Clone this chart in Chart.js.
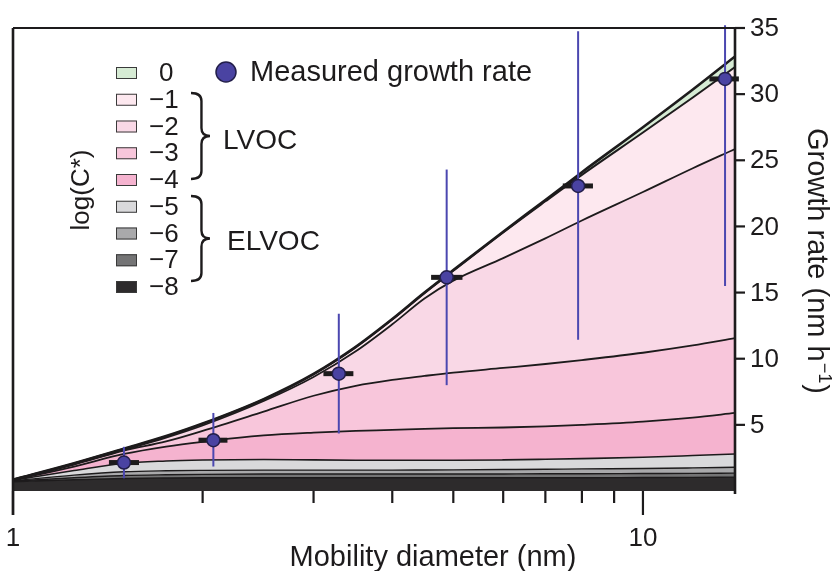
<!DOCTYPE html>
<html>
<head>
<meta charset="utf-8">
<script src="https://cdn.jsdelivr.net/npm/chart.js@4/dist/chart.umd.min.js"></script>
<style>
  html, body { margin: 0; padding: 0; background: #fff; }
  #wrap { position: relative; width: 833px; height: 571px; }
</style>
</head>
<body>
<div id="wrap"><canvas id="chart" width="833" height="571"></canvas></div>
<script>
// Mobility diameter grid (nm) for the modelled contributions
const diameters = [1, 1.25, 1.5, 1.75, 2, 2.5, 3, 3.5, 4, 4.5, 5, 6, 7, 8, 10, 12, 14];

// Cumulative modelled growth rate (nm/h) summed over bins up to each log(C*)
const cumMinus8 = [0.70, 0.85, 0.94, 0.98, 1.00, 1.00, 1.00, 1.00, 1.00, 1.00, 1.00, 1.00, 1.00, 1.00, 1.02, 1.03, 1.05];
const cumMinus7 = [0.74, 1.00, 1.17, 1.23, 1.26, 1.28, 1.28, 1.28, 1.28, 1.28, 1.28, 1.29, 1.30, 1.30, 1.32, 1.33, 1.35];
const cumMinus6 = [0.77, 1.20, 1.45, 1.53, 1.56, 1.58, 1.58, 1.58, 1.58, 1.59, 1.60, 1.62, 1.64, 1.67, 1.70, 1.75, 1.80];
const cumMinus5 = [0.80, 1.55, 2.10, 2.27, 2.34, 2.38, 2.35, 2.33, 2.32, 2.32, 2.32, 2.35, 2.40, 2.45, 2.55, 2.68, 2.80];
const cumMinus4 = [0.82, 1.85, 2.80, 3.36, 3.72, 4.20, 4.42, 4.55, 4.62, 4.70, 4.75, 4.80, 4.88, 5.00, 5.25, 5.55, 5.90];
const cumMinus3 = [0.83, 2.00, 3.05, 3.75, 4.55, 6.00, 7.20, 7.95, 8.40, 8.70, 8.95, 9.30, 9.60, 9.90, 10.45, 11.00, 11.55];
const cumMinus2 = [0.84, 2.04, 3.10, 4.03, 4.95, 6.80, 8.62, 10.56, 12.60, 14.55, 15.90, 17.60, 19.10, 20.45, 22.60, 24.40, 25.85];
const cumMinus1 = [0.85, 2.09, 3.18, 4.13, 5.07, 6.92, 8.82, 10.86, 12.96, 14.96, 16.65, 19.55, 21.90, 23.90, 27.10, 29.75, 32.05];
const cumZero   = [0.86, 2.10, 3.20, 4.15, 5.10, 6.95, 8.85, 10.90, 13.00, 15.00, 16.70, 19.60, 22.00, 24.10, 27.50, 30.35, 32.85];

// Measured growth rates with diameter and rate uncertainty
const measDiameter = [1.5, 2.08, 3.29, 4.88, 7.89, 13.5];
const measRate     = [2.15, 3.84, 8.87, 16.15, 23.06, 31.15];
const measRateLow  = [0.96, 1.85, 4.35, 8.0, 11.43, 15.5];
const measRateHigh = [3.34, 5.9, 13.4, 24.3, 34.75, 35.2];
const measDiamLow  = [1.42, 1.97, 3.11, 4.61, 7.46, 12.75];
const measDiamHigh = [1.585, 2.19, 3.47, 5.17, 8.33, 14.2];

// Legend / axis text
const binLabels = ['0', '\u22121', '\u22122', '\u22123', '\u22124', '\u22125', '\u22126', '\u22127', '\u22128'];
const yTicks = [5, 10, 15, 20, 25, 30, 35];
const xMajorTicks = [1, 10];
const xMinorTicks = [2, 3, 4, 5, 6, 7, 8, 9];

const INK = '#1d1b1c';
const FONT = '"Liberation Sans", Arial, Helvetica, sans-serif';

// bottom-to-top stacking order, colours matching binLabels reversed
const layers = [
  { data: cumMinus8, color: '#2d2b2c', width: 1.4 },
  { data: cumMinus7, color: '#747475', width: 1.4 },
  { data: cumMinus6, color: '#a9a9ab', width: 1.4 },
  { data: cumMinus5, color: '#d9d9db', width: 1.6 },
  { data: cumMinus4, color: '#f5b3cf', width: 1.8 },
  { data: cumMinus3, color: '#f8c6db', width: 1.8 },
  { data: cumMinus2, color: '#f9d8e6', width: 1.8 },
  { data: cumMinus1, color: '#fde8ef', width: 2.0 },
  { data: cumZero,   color: '#d6ebd4', width: 2.6 }
];
const legendColors = layers.map(l => l.color).reverse();

const areaDatasets = layers.map((layer, i) => ({
  data: diameters.map((d, j) => ({ x: d, y: layer.data[j] })),
  borderColor: INK,
  borderWidth: layer.width,
  backgroundColor: layer.color,
  fill: i === 0 ? 'origin' : '-1',
  pointRadius: 0,
  cubicInterpolationMode: 'monotone',
  order: 1
}));

const pointDataset = {
  data: measDiameter.map((d, i) => ({ x: d, y: measRate[i] })),
  showLine: false,
  pointRadius: 6.5,
  pointBackgroundColor: '#4a43a2',
  pointBorderColor: '#221e4a',
  pointBorderWidth: 1.5,
  clip: false,
  order: 0
};

// error bars under each measured point
const errorBars = {
  id: 'errorBars',
  beforeDatasetDraw(chart, args) {
    if (args.index !== areaDatasets.length) return;
    const { ctx, scales: { x, y } } = chart;
    ctx.save();
    measDiameter.forEach((d, i) => {
      const px = x.getPixelForValue(d);
      const py = y.getPixelForValue(measRate[i]);
      ctx.strokeStyle = INK;
      ctx.lineWidth = 5;
      ctx.beginPath();
      ctx.moveTo(x.getPixelForValue(measDiamLow[i]), py);
      ctx.lineTo(x.getPixelForValue(measDiamHigh[i]), py);
      ctx.stroke();
      ctx.strokeStyle = '#4b47b0';
      ctx.lineWidth = 2;
      ctx.beginPath();
      ctx.moveTo(px, y.getPixelForValue(measRateLow[i]));
      ctx.lineTo(px, y.getPixelForValue(measRateHigh[i]));
      ctx.stroke();
    });
    ctx.restore();
  }
};

function brace(ctx, x, y0, y1, w) {
  const mid = (y0 + y1) / 2;
  const r = 8;
  const cx = x + w * 0.55;
  ctx.beginPath();
  ctx.moveTo(x, y0);
  ctx.quadraticCurveTo(cx, y0, cx, y0 + r);
  ctx.lineTo(cx, mid - r);
  ctx.quadraticCurveTo(cx, mid, x + w, mid);
  ctx.quadraticCurveTo(cx, mid, cx, mid + r);
  ctx.lineTo(cx, y1 - r);
  ctx.quadraticCurveTo(cx, y1, x, y1);
  ctx.stroke();
}

// frame, hand-placed ticks and all the annotation text
const frameAxes = {
  id: 'frameAxes',
  afterDatasetsDraw(chart) {
    const { ctx, chartArea: a, scales: { x, y } } = chart;
    ctx.save();
    ctx.strokeStyle = INK;
    ctx.fillStyle = INK;
    ctx.lineCap = 'butt';

    // top frame and right axis
    ctx.lineWidth = 2.2;
    ctx.beginPath();
    ctx.moveTo(a.left, a.top);
    ctx.lineTo(a.right + 10, a.top);
    ctx.stroke();
    ctx.lineWidth = 2.6;
    ctx.beginPath();
    ctx.moveTo(a.right, a.top);
    ctx.lineTo(a.right, a.bottom + 3);
    ctx.stroke();

    // y ticks on the right
    ctx.lineWidth = 2.2;
    ctx.font = '26px ' + FONT;
    ctx.textAlign = 'left';
    ctx.textBaseline = 'middle';
    yTicks.forEach(v => {
      const py = y.getPixelForValue(v);
      ctx.beginPath();
      ctx.moveTo(a.right, py);
      ctx.lineTo(a.right + 10, py);
      ctx.stroke();
      ctx.fillText(String(v), a.right + 15, py + 1);
    });

    // left frame doubles as the tick at 1
    ctx.lineWidth = 2.6;
    ctx.beginPath();
    ctx.moveTo(a.left, a.top);
    ctx.lineTo(a.left, a.bottom + 24);
    ctx.stroke();
    ctx.lineWidth = 2.2;
    xMajorTicks.forEach(v => {
      const px = x.getPixelForValue(v);
      ctx.beginPath();
      ctx.moveTo(px, a.bottom);
      ctx.lineTo(px, a.bottom + 24);
      ctx.stroke();
    });
    xMinorTicks.forEach(v => {
      const px = x.getPixelForValue(v);
      ctx.beginPath();
      ctx.moveTo(px, a.bottom);
      ctx.lineTo(px, a.bottom + 12);
      ctx.stroke();
    });
    ctx.textAlign = 'center';
    ctx.font = '26px ' + FONT;
    xMajorTicks.forEach(v => {
      ctx.fillText(String(v), x.getPixelForValue(v), a.bottom + 48);
    });

    // axis titles
    ctx.font = '29px ' + FONT;
    ctx.textBaseline = 'alphabetic';
    ctx.fillText('Mobility diameter (nm)', 433, 566);

    ctx.save();
    ctx.translate(808, 128);
    ctx.rotate(Math.PI / 2);
    ctx.textAlign = 'left';
    ctx.font = '29px ' + FONT;
    const main = 'Growth rate (nm h';
    ctx.fillText(main, 0, 0);
    let off = ctx.measureText(main).width;
    ctx.font = '18px ' + FONT;
    ctx.fillText('\u22121', off + 1, -11);
    off += ctx.measureText('\u22121').width + 2;
    ctx.font = '29px ' + FONT;
    ctx.fillText(')', off, 0);
    ctx.restore();

    // volatility bin legend
    const rowTop = 73, rowStep = 26.75;
    ctx.font = '26px ' + FONT;
    ctx.textAlign = 'left';
    ctx.textBaseline = 'middle';
    binLabels.forEach((label, i) => {
      const cy = rowTop + i * rowStep;
      ctx.fillStyle = legendColors[i];
      ctx.fillRect(116, cy - 6, 21, 12);
      ctx.strokeStyle = '#3a3a3a';
      ctx.lineWidth = 1;
      ctx.strokeRect(116.5, cy - 5.5, 20, 11);
      ctx.fillStyle = INK;
      ctx.fillText(label, i === 0 ? 159 : 149, cy + 1);
    });

    ctx.strokeStyle = INK;
    ctx.lineWidth = 2.4;
    brace(ctx, 191, 93, 179, 19);
    brace(ctx, 191, 196, 281, 19);
    ctx.font = '28px ' + FONT;
    ctx.fillText('LVOC', 223, 141);
    ctx.fillText('ELVOC', 227, 242);

    ctx.save();
    ctx.translate(82, 190);
    ctx.rotate(-Math.PI / 2);
    ctx.textAlign = 'center';
    ctx.font = '26px ' + FONT;
    ctx.fillText('log(C*)', 0, 0);
    ctx.restore();

    // measured-point key
    ctx.beginPath();
    ctx.arc(226, 72, 10, 0, Math.PI * 2);
    ctx.fillStyle = '#4a43a2';
    ctx.fill();
    ctx.strokeStyle = '#221e4a';
    ctx.lineWidth = 1.5;
    ctx.stroke();
    ctx.fillStyle = INK;
    ctx.font = '29px ' + FONT;
    ctx.fillText('Measured growth rate', 250, 73);

    ctx.restore();
  }
};

new Chart(document.getElementById('chart'), {
  type: 'line',
  data: { datasets: [...areaDatasets, pointDataset] },
  options: {
    responsive: false,
    animation: false,
    layout: { padding: { left: 13, right: 98, top: 28, bottom: 80 } },
    scales: {
      x: { type: 'logarithmic', min: 1, max: 14, display: false },
      y: { type: 'linear', min: 0, max: 35, display: false }
    },
    plugins: {
      legend: { display: false },
      tooltip: { enabled: false },
      filler: { drawTime: 'beforeDatasetsDraw' }
    }
  },
  plugins: [errorBars, frameAxes]
});
</script>
</body>
</html>
